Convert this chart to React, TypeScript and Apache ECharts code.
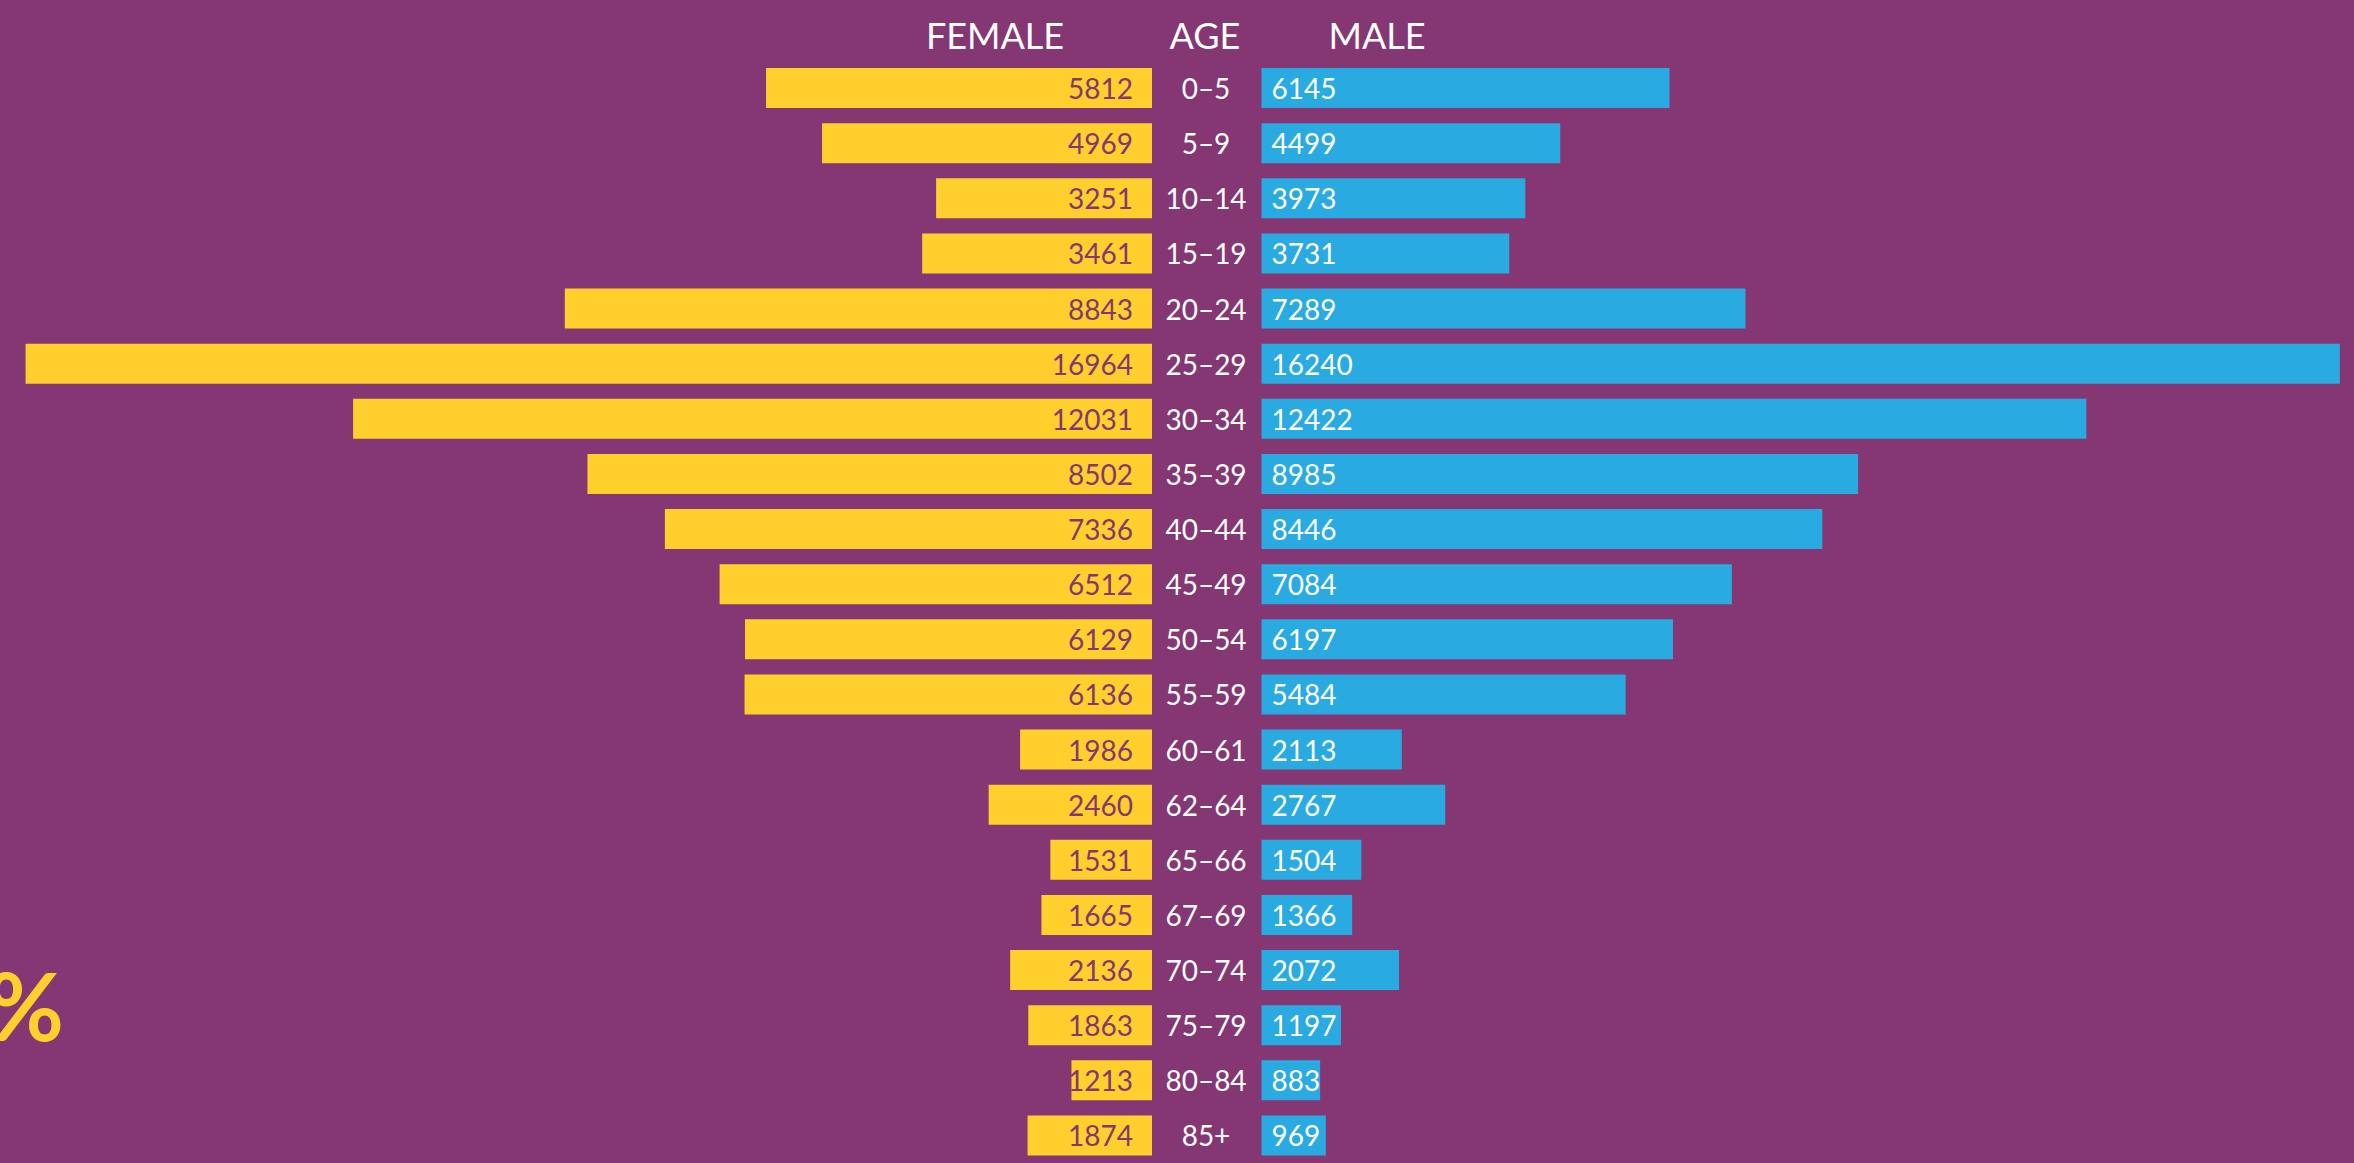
import React, { useEffect, useRef } from "react";
import * as echarts from "echarts";

const ageGroups = ["0–5", "5–9", "10–14", "15–19", "20–24", "25–29", "30–34", "35–39", "40–44", "45–49", "50–54", "55–59", "60–61", "62–64", "65–66", "67–69", "70–74", "75–79", "80–84", "85+"];
const female = [5812, 4969, 3251, 3461, 8843, 16964, 12031, 8502, 7336, 6512, 6129, 6136, 1986, 2460, 1531, 1665, 2136, 1863, 1213, 1874];
const male = [6145, 4499, 3973, 3731, 7289, 16240, 12422, 8985, 8446, 7084, 6197, 5484, 2113, 2767, 1504, 1366, 2072, 1197, 883, 969];
const headers = ["FEMALE", "AGE", "MALE"];

const PURPLE = "#843772";
const YELLOW = "#FFCF2D";
const BLUE = "#29AAE1";
const FONT = "Lato, 'Noto Sans', sans-serif";

export default function App() {
  const ref = useRef<HTMLDivElement>(null);
  useEffect(() => {
    if (!ref.current) return;
    const chart = echarts.init(ref.current, undefined, { renderer: "svg" });
    const headerX = [995, 1205, 1377];
    chart.setOption({
      animation: false,
      backgroundColor: PURPLE,
      grid: [
        { left: 0, width: 1152, top: 60.5, height: 1105.2 },
        { left: 1261.5, width: 1092.5, top: 60.5, height: 1105.2 },
      ],
      xAxis: [
        { type: "value", gridIndex: 0, inverse: true, min: 0, max: 17349, show: false },
        { type: "value", gridIndex: 1, min: 0, max: 16453, show: false },
      ],
      yAxis: [
        {
          type: "category",
          gridIndex: 0,
          data: ageGroups,
          inverse: true,
          position: "right",
          axisLine: { show: false },
          axisTick: { show: false },
          splitLine: { show: false },
          axisLabel: { margin: 54, align: "center", color: "#ffffff", fontSize: 28, fontFamily: FONT },
        },
        {
          type: "category",
          gridIndex: 1,
          data: ageGroups,
          inverse: true,
          show: false,
        },
      ],
      series: [
        {
          type: "bar",
          xAxisIndex: 0,
          yAxisIndex: 0,
          data: female,
          barCategoryGap: "27.6%",
          itemStyle: { color: YELLOW },
          label: { show: true, position: "insideRight", distance: 19, color: PURPLE, fontSize: 28, fontFamily: FONT },
        },
        {
          type: "bar",
          xAxisIndex: 1,
          yAxisIndex: 1,
          data: male,
          barCategoryGap: "27.6%",
          itemStyle: { color: BLUE },
          label: { show: true, position: "insideLeft", distance: 10, color: "#ffffff", fontSize: 28, fontFamily: FONT },
        },
      ],
      graphic: [
        ...headers.map((h, i) => ({
          type: "text",
          x: headerX[i],
          y: 35,
          style: { text: h, fill: "#ffffff", fontSize: 36, fontFamily: FONT, align: "center", verticalAlign: "middle" },
        })),
        {
          type: "text",
          x: 64,
          y: 1004,
          style: { text: "%", fill: YELLOW, fontSize: 94, fontWeight: "bold", fontFamily: FONT, align: "right", verticalAlign: "middle" },
        },
      ],
    });
    return () => chart.dispose();
  }, []);
  return <div ref={ref} style={{ position: "fixed", left: 0, top: 0, width: 2354, height: 1163, background: PURPLE }} />;
}
